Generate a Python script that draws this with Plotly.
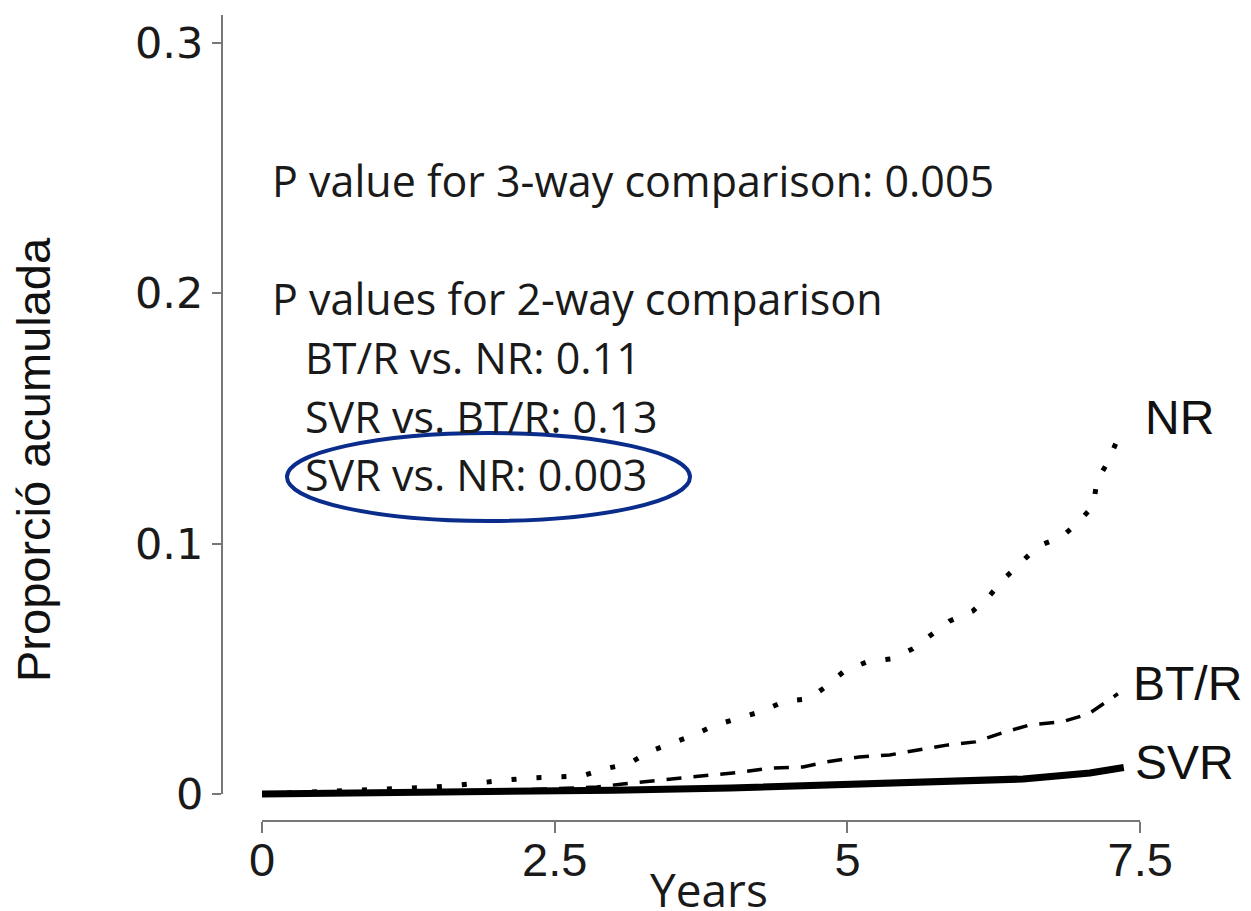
import plotly.graph_objects as go

# ---- data ----
nr_years = [0, 0.5, 1.0, 1.48, 1.69, 1.89, 2.09, 2.3, 2.52, 2.73, 2.92, 3.13, 3.31, 3.48, 3.69, 3.87,
            4.07, 4.27, 4.46, 4.67, 4.82, 4.97, 5.18, 5.38, 5.56, 5.72, 5.87, 6.07, 6.21, 6.34,
            6.47, 6.63, 6.83, 6.96, 7.10, 7.13, 7.23, 7.31]
nr_vals = [0, 0.0008, 0.0016, 0.0028, 0.0036, 0.0048, 0.0056, 0.0064, 0.0068, 0.0072, 0.010, 0.012,
           0.017, 0.020, 0.0236, 0.0275, 0.030, 0.033, 0.037, 0.038, 0.043, 0.049, 0.053, 0.054,
           0.058, 0.064, 0.069, 0.073, 0.079, 0.086, 0.092, 0.099, 0.1026, 0.108, 0.115, 0.125,
           0.133, 0.142]

btr_years = [0, 1.0, 2.0, 2.5, 2.86, 3.08, 3.34, 3.6, 3.84, 4.1, 4.36, 4.62, 4.82, 5.1, 5.36, 5.6,
             5.86, 6.09, 6.32, 6.55, 6.83, 7.06, 7.31]
btr_vals = [0, 0.0004, 0.0012, 0.002, 0.0028, 0.004, 0.0052, 0.0066, 0.0076, 0.0088, 0.0104, 0.0108,
            0.0128, 0.0148, 0.0156, 0.0176, 0.0196, 0.0208, 0.0244, 0.0275, 0.0288, 0.032, 0.040]

svr_years = [0, 1, 2, 3, 4, 4.6, 5.3, 5.9, 6.5, 7.07, 7.2, 7.36]
svr_vals = [0, 0.0003, 0.0008, 0.0015, 0.0024, 0.0032, 0.004, 0.0049, 0.006, 0.0084, 0.0095, 0.0106]

x_ticks = [0, 2.5, 5, 7.5]
x_tick_text = ["0", "2.5", "5", "7.5"]
y_ticks = [0, 0.1, 0.2, 0.3]
y_tick_text = ["0", "0.1", "0.2", "0.3"]

curve_labels = ["NR", "BT/R", "SVR"]
p_lines = [
    "P value for 3-way comparison: 0.005",
    "P values for 2-way comparison",
    "BT/R vs. NR: 0.11",
    "SVR vs. BT/R: 0.13",
    "SVR vs. NR: 0.003",
]

# ---- layout geometry ----
W, H = 1251, 911
L, R, T, B = 222, 64, 15, 90
PW, PH = W - L - R, H - T - B


def px_x(px):
    return (px - L) / PW


def px_y(py):
    return (H - B - py) / PH


fig = go.Figure()
fig.add_trace(go.Scatter(x=nr_years, y=nr_vals, mode="lines", name="NR",
                         line=dict(color="black", width=5, dash="5px,20px")))
fig.add_trace(go.Scatter(x=btr_years, y=btr_vals, mode="lines", name="BT/R",
                         line=dict(color="black", width=3.5, dash="15px,12px")))
fig.add_trace(go.Scatter(x=svr_years, y=svr_vals, mode="lines", name="SVR",
                         line=dict(color="black", width=7)))

axis_grey = "#777777"
fig.update_layout(
    width=W, height=H,
    margin=dict(l=L, r=R, t=T, b=B),
    paper_bgcolor="white", plot_bgcolor="white",
    showlegend=False,
    xaxis=dict(range=[-0.342, 7.9], showgrid=False, zeroline=False, showline=False,
               tickvals=x_ticks, ticktext=x_tick_text, ticks="outside", ticklen=11,
               tickwidth=2, tickcolor=axis_grey, ticklabelstandoff=-13,
               tickfont=dict(family="Liberation Sans", size=47, color="#1a1a1a")),
    yaxis=dict(range=[-0.01078, 0.3110], showgrid=False, zeroline=False, showline=False,
               tickvals=y_ticks, ticktext=y_tick_text, ticks="outside", ticklen=9,
               tickwidth=2, tickcolor=axis_grey,
               tickfont=dict(family="DejaVu Sans", size=43, color="#1a1a1a")),
)

# R-style detached axis lines
fig.add_shape(type="line", xref="paper", yref="y", x0=0, x1=0, y0=0, y1=0.3110,
              line=dict(color=axis_grey, width=2))
fig.add_shape(type="line", xref="x", yref="paper", x0=0, x1=7.5, y0=0, y1=0,
              line=dict(color=axis_grey, width=2))

# highlight ellipse
fig.add_shape(type="circle", xref="paper", yref="paper",
              x0=px_x(287), x1=px_x(690), y0=px_y(521), y1=px_y(433),
              line=dict(color="#0a2d8c", width=4))

# axis titles
fig.add_annotation(text="Proporció acumulada", xref="paper", yref="paper",
                   x=px_x(34), y=px_y(460), textangle=-90, showarrow=False,
                   xanchor="center", yanchor="middle",
                   font=dict(family="Liberation Sans", size=47, color="#111111"))
fig.add_annotation(text="Years", xref="paper", yref="paper",
                   x=px_x(709), y=px_y(889), showarrow=False,
                   xanchor="center", yanchor="middle",
                   font=dict(family="Open Sans", size=46, color="#1a1a1a"))

# p-value text block
p_x = [270, 270, 303, 303, 303]
p_y = [180, 298, 358, 416, 474]
for txt, xx, yy in zip(p_lines, p_x, p_y):
    fig.add_annotation(text=txt, xref="paper", yref="paper", x=px_x(xx), y=px_y(yy),
                       showarrow=False, xanchor="left", yanchor="middle",
                       font=dict(family="Open Sans", size=43, color="#1a1a1a"))

# curve end labels
lab_x = [1143, 1131, 1133]
lab_y = [417, 683, 762]
for txt, xx, yy in zip(curve_labels, lab_x, lab_y):
    fig.add_annotation(text=txt, xref="paper", yref="paper", x=px_x(xx), y=px_y(yy),
                       showarrow=False, xanchor="left", yanchor="middle",
                       font=dict(family="Liberation Sans", size=48, color="#111111"))

fig.write_html("out.html")
